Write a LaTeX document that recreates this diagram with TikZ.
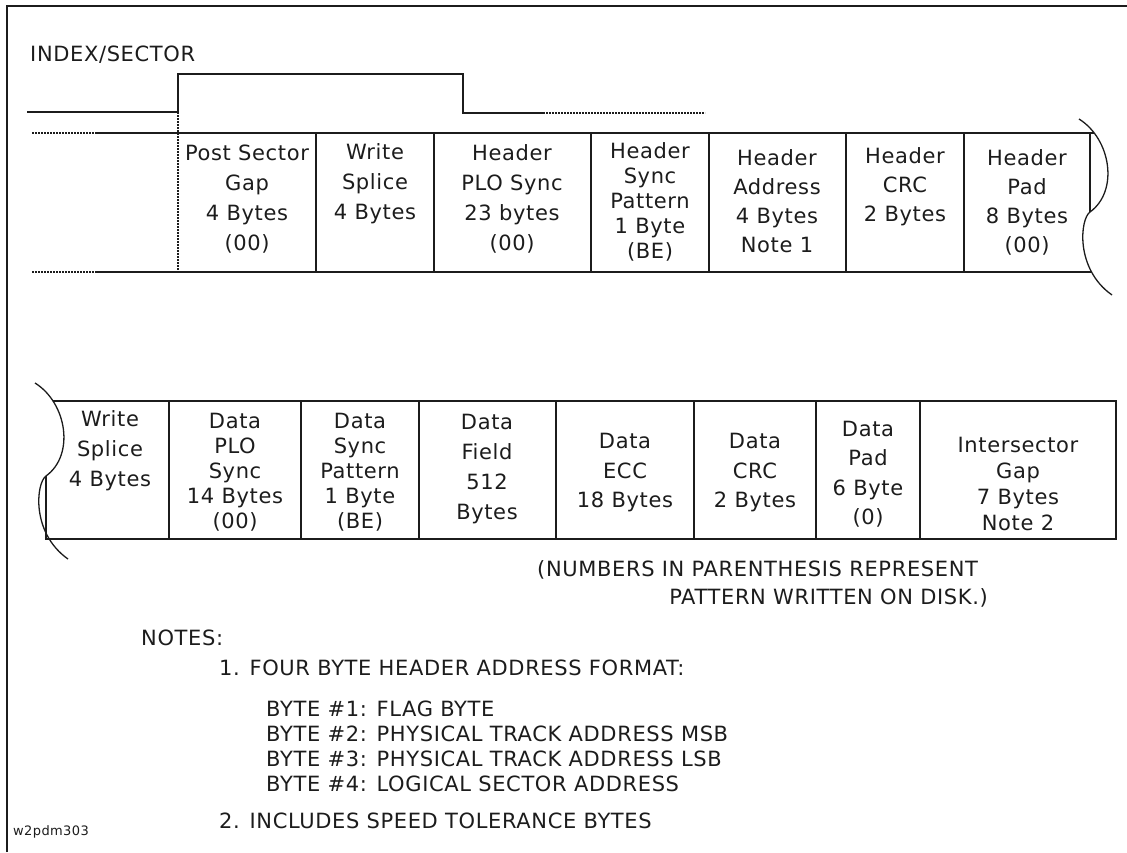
\documentclass[tikz,border=0pt]{standalone}
\usepackage{fontspec}
\setmainfont{DejaVu Sans}[LetterSpace=3]
\usetikzlibrary{positioning}
\definecolor{PlotInk}{HTML}{1C1C1C}

\begin{document}
\begin{tikzpicture}[
  x=1pt, y=-1pt,
  font=\fontsize{21}{30}\selectfont,
  cell/.style={
    align=center,
    inner sep=0pt,
    text=PlotInk,
    font=\fontsize{21}{30}\selectfont,
  },
  tight/.style={font=\fontsize{21}{25}\selectfont},
  note/.style={anchor=west, inner sep=0pt, text=PlotInk},
  rule/.style={PlotInk, line width=1.6pt},
  dots/.style={PlotInk, line width=1.2pt, dash pattern=on 1.6pt off 1.4pt},
  brk/.style={PlotInk, line width=1.3pt},
]
  \useasboundingbox (0,0) rectangle (1127,852);

  % sheet frame
  \draw[PlotInk, line width=2.6pt] (7,852) -- (7,6) -- (1127,6);

  % index/sector pulse
  \node[note] (lbl) at (30,55) {INDEX/SECTOR};
  \draw[rule] (27,112) -- (178,112) -- (178,74) -- (463,74) -- (463,113) -- (543,113);
  \draw[dots] (543,113) -- (705,113);
  \draw[dots] (178,112) -- (178,272);

  % header strip
  \draw[dots] (32,133) -- (97,133);
  \draw[dots] (32,272) -- (97,272);
  \draw[rule] (97,133) -- (1094,133);
  \draw[rule] (97,272) -- (1091,272);
  \foreach \xa in {316,434,591,709,846,964}
    \draw[rule] (\xa,133) -- (\xa,272);
  \draw[rule] (1090,133) -- (1090,212);
  \begin{scope}[shift={(1079,119)}]
    \draw[brk] (0,0) .. controls (32,20) and (40,72) .. (11,93)
      .. controls (1,100) and (-4,150) .. (33,176);
  \end{scope}

  \node[cell] (psgap) at (247,199) {Post Sector\\Gap\\4 Bytes\\(00)};
  \node[cell] (wsplA) at (375,184) {Write\\Splice\\4 Bytes};
  \node[cell] (hplo) at (512,199) {Header\\PLO Sync\\23 bytes\\(00)};
  \node[cell, tight] (hsync) at (650,202) {Header\\Sync\\Pattern\\1 Byte\\(BE)};
  \node[cell, font=\fontsize{21}{29}\selectfont] (haddr) at (777,201) {Header\\Address\\4 Bytes\\Note 1};
  \node[cell, font=\fontsize{21}{29}\selectfont] (hcrc) at (905,187) {Header\\CRC\\2 Bytes};
  \node[cell, font=\fontsize{21}{29}\selectfont] (hpad) at (1027,202) {Header\\Pad\\8 Bytes\\(00)};

  % data strip
  \draw[rule] (53,401) -- (1116,401) -- (1116,539) -- (46,539) -- (46,476);
  \foreach \xa in {169,301,419,556,694,816,920}
    \draw[rule] (\xa,401) -- (\xa,539);
  \begin{scope}[shift={(35,383)}]
    \draw[brk] (0,0) .. controls (32,20) and (40,72) .. (11,93)
      .. controls (1,100) and (-4,150) .. (33,176);
  \end{scope}

  \node[cell] (wsplB) at (110,451) {Write\\Splice\\4 Bytes};
  \node[cell, tight] (dplo) at (235,472) {Data\\PLO\\Sync\\14 Bytes\\(00)};
  \node[cell, tight] (dsync) at (360,472) {Data\\Sync\\Pattern\\1 Byte\\(BE)};
  \node[cell] (dfield) at (487,469) {Data\\Field\\512\\Bytes};
  \node[cell, font=\fontsize{21}{29.5}\selectfont] (decc) at (625,473) {Data\\ECC\\18 Bytes};
  \node[cell, font=\fontsize{21}{29.5}\selectfont] (dcrc) at (755,473) {Data\\CRC\\2 Bytes};
  \node[cell, font=\fontsize{21}{29.5}\selectfont] (dpad) at (868,474) {Data\\Pad\\6 Byte\\(0)};
  \node[cell, font=\fontsize{21}{26}\selectfont] (isgap) at (1018,484) {Intersector\\Gap\\7 Bytes\\Note 2};

  % remarks
  \node[note] (numA) at (537,570) {(NUMBERS IN PARENTHESIS REPRESENT};
  \node[note, anchor=east] (numB) at (988,598) {PATTERN WRITTEN ON DISK.)};

  \node[note] (notes) at (141,638) {NOTES:};
  \node[note] (noteA) at (219,668) {1. FOUR BYTE HEADER ADDRESS FORMAT:};
  \node[note] (byteA) at (266,709) {BYTE \#1: FLAG BYTE};
  \node[note, below=25pt of byteA.west, anchor=west] (byteB) {BYTE \#2: PHYSICAL TRACK ADDRESS MSB};
  \node[note, below=25pt of byteB.west, anchor=west] (byteC) {BYTE \#3: PHYSICAL TRACK ADDRESS LSB};
  \node[note, below=25pt of byteC.west, anchor=west] (byteD) {BYTE \#4: LOGICAL SECTOR ADDRESS};
  \node[note] (noteB) at (219,821) {2. INCLUDES SPEED TOLERANCE BYTES};
  \node[note, font=\fontsize{13}{15}\selectfont] (figid) at (13,832) {w2pdm303};
\end{tikzpicture}
\end{document}
